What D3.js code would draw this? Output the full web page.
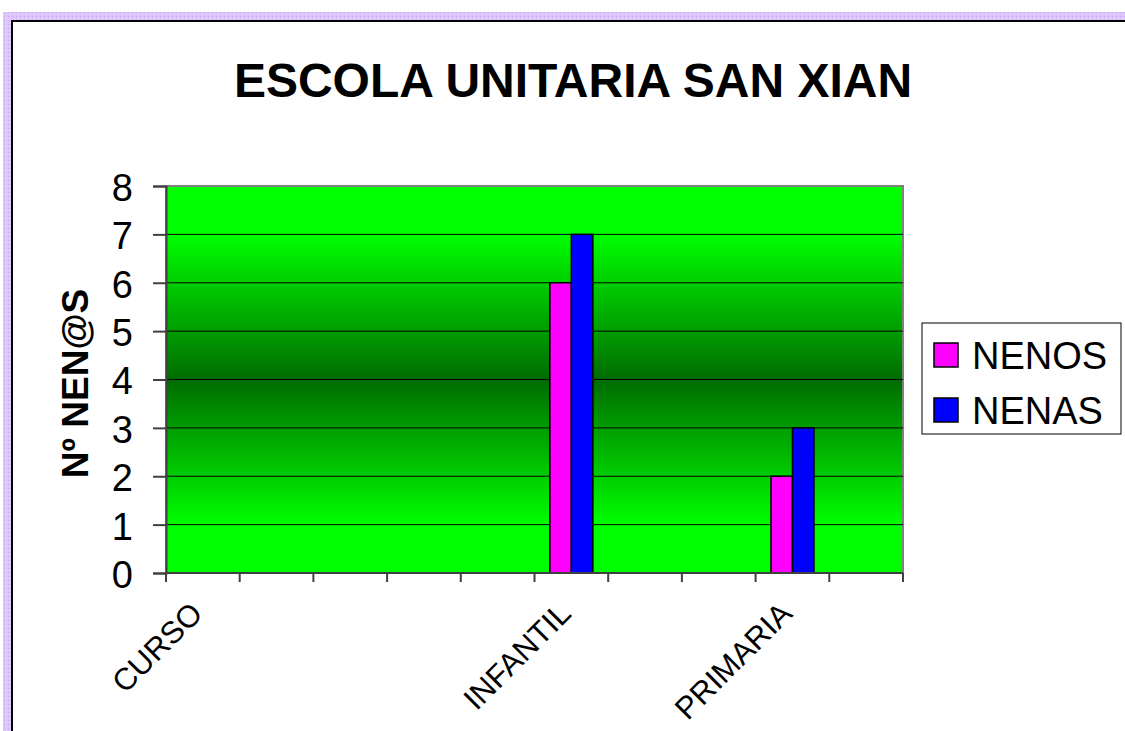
<!DOCTYPE html>
<meta charset="utf-8">
<style>
body { margin: 0; background: #fff; font-family: "Liberation Sans", Arial, Helvetica, sans-serif; }
svg { display: block; }
.grid line { stroke: #000; stroke-width: 1; }
.axis path, .axis line { stroke: #404040; stroke-width: 2; }
.axis text { fill: #000; font-family: "Liberation Sans", Arial, sans-serif; }
</style>

<svg width="1125" height="731"></svg>
<script src="https://d3js.org/d3.v7.min.js"></script>
<script>

// data
var categories = ["CURSO", "", "", "", "", "INFANTIL", "", "", "PRIMARIA", ""];
var nenos = [null, null, null, null, null, 6, null, null, 2, null];
var nenas = [null, null, null, null, null, 7, null, null, 3, null];
var seriesNames = ["NENOS", "NENAS"];
var seriesColors = ["#FF00FF", "#0000FF"];
var yTicks = [0, 1, 2, 3, 4, 5, 6, 7, 8];

var svg = d3.select("svg"),
    width = +svg.attr("width"),
    height = +svg.attr("height");

var defs = svg.append("defs");

// dotted lavender frame pattern
var pat = defs.append("pattern")
    .attr("id", "frame")
    .attr("width", 4).attr("height", 4)
    .attr("patternUnits", "userSpaceOnUse");
pat.append("rect").attr("width", 4).attr("height", 4).attr("fill", "#dcc4fc");
pat.append("rect").attr("width", 1).attr("height", 1).attr("fill", "#c9a6f5");
pat.append("rect").attr("x", 2).attr("y", 2).attr("width", 1).attr("height", 1).attr("fill", "#ead9ff");

var grad = defs.append("linearGradient")
    .attr("id", "bg")
    .attr("x1", 0).attr("y1", 0).attr("x2", 0).attr("y2", 1);
[[0, "#00ff00"], [0.125, "#00ff00"], [0.5, "#006c00"], [0.875, "#00ff00"], [1, "#00ff00"]]
  .forEach(function(s) {
    grad.append("stop").attr("offset", s[0]).attr("stop-color", s[1]);
  });

// outer frame
svg.append("rect").attr("x", 3).attr("y", 12).attr("width", width).attr("height", height)
    .attr("fill", "url(#frame)");
svg.append("rect").attr("x", 12).attr("y", 21).attr("width", width).attr("height", height)
    .attr("fill", "#fff").attr("stroke", "#000").attr("stroke-width", 2);

var margin = {left: 166, top: 186, right: 903, bottom: 573};

var x0 = d3.scaleBand()
    .domain(d3.range(categories.length))
    .range([margin.left, margin.right])
    .padding(0);

var x1 = d3.scaleBand()
    .domain(seriesNames)
    .range([0, x0.bandwidth()])
    .paddingInner(0)
    .paddingOuter(0.714);

var y = d3.scaleLinear()
    .domain([0, 8])
    .range([margin.bottom, margin.top]);

// plot area
svg.append("rect")
    .attr("x", margin.left).attr("y", margin.top)
    .attr("width", margin.right - margin.left)
    .attr("height", margin.bottom - margin.top)
    .attr("fill", "url(#bg)")
    .attr("stroke", "#808080").attr("stroke-width", 2);

svg.append("g").attr("class", "grid")
  .selectAll("line")
  .data(yTicks.filter(function(d) { return d > 0 && d < 8; }))
  .enter().append("line")
    .attr("x1", margin.left).attr("x2", margin.right)
    .attr("y1", function(d) { return y(d); })
    .attr("y2", function(d) { return y(d); });

// bars
var rows = categories.map(function(c, i) {
  return {i: i, values: [{key: "NENOS", v: nenos[i]}, {key: "NENAS", v: nenas[i]}]};
});

svg.append("g")
  .selectAll("g")
  .data(rows)
  .enter().append("g")
    .attr("transform", function(d) { return "translate(" + x0(d.i) + ",0)"; })
  .selectAll("rect")
  .data(function(d) { return d.values.filter(function(v) { return v.v != null; }); })
  .enter().append("rect")
    .attr("x", function(d) { return x1(d.key); })
    .attr("width", x1.bandwidth())
    .attr("y", function(d) { return y(d.v); })
    .attr("height", function(d) { return y(0) - y(d.v); })
    .attr("fill", function(d) { return seriesColors[seriesNames.indexOf(d.key)]; })
    .attr("stroke", "#000").attr("stroke-width", 1.5);

// y axis
var yAxis = svg.append("g")
    .attr("class", "axis")
    .attr("transform", "translate(" + margin.left + ",0)")
    .call(d3.axisLeft(y).tickValues(yTicks).tickSize(13).tickPadding(20).tickFormat(d3.format("d")));
yAxis.selectAll("text").style("font-size", "38px").attr("dy", "0.38em");

// x axis: ticks on slot boundaries
var xAxis = svg.append("g")
    .attr("class", "axis")
    .attr("transform", "translate(0," + margin.bottom + ")");
xAxis.append("path").attr("d", "M" + margin.left + ",0H" + margin.right);
xAxis.selectAll("line")
  .data(d3.range(categories.length + 1))
  .enter().append("line")
    .attr("x1", function(d) { return margin.left + d * x0.step(); })
    .attr("x2", function(d) { return margin.left + d * x0.step(); })
    .attr("y1", 0).attr("y2", 9);

xAxis.selectAll("text")
  .data(rows.filter(function(d) { return categories[d.i] !== ""; }))
  .enter().append("text")
    .attr("transform", function(d) {
      return "translate(" + (x0(d.i) + x0.bandwidth() / 2 - 14) + ",27) rotate(-45)";
    })
    .attr("text-anchor", "end")
    .attr("dy", "0.7em")
    .style("font-size", "31px")
    .text(function(d) { return categories[d.i]; });

// titles
svg.append("text")
    .attr("x", 573).attr("y", 97)
    .attr("text-anchor", "middle")
    .style("font-size", "48px").style("font-weight", "bold")
    .text("ESCOLA UNITARIA SAN XIAN");

svg.append("text")
    .attr("transform", "translate(88," + ((margin.top + margin.bottom) / 2 + 4) + ") rotate(-90)")
    .attr("text-anchor", "middle")
    .style("font-size", "37px").style("font-weight", "bold")
    .text("Nº NEN@S");

// legend
var legend = svg.append("g").attr("transform", "translate(922,323)");
legend.append("rect").attr("width", 199).attr("height", 111)
    .attr("fill", "#fff").attr("stroke", "#000").attr("stroke-width", 1);
var item = legend.selectAll(".legend")
    .data(seriesNames)
    .enter().append("g")
    .attr("class", "legend")
    .attr("transform", function(d, i) { return "translate(12," + (20 + i * 55) + ")"; });
item.append("rect")
    .attr("width", 24).attr("height", 24)
    .attr("fill", function(d, i) { return seriesColors[i]; })
    .attr("stroke", "#000").attr("stroke-width", 1.5);
item.append("text")
    .attr("x", 38).attr("y", 12).attr("dy", "0.36em")
    .style("font-size", "38px")
    .text(function(d) { return d; });

</script>
